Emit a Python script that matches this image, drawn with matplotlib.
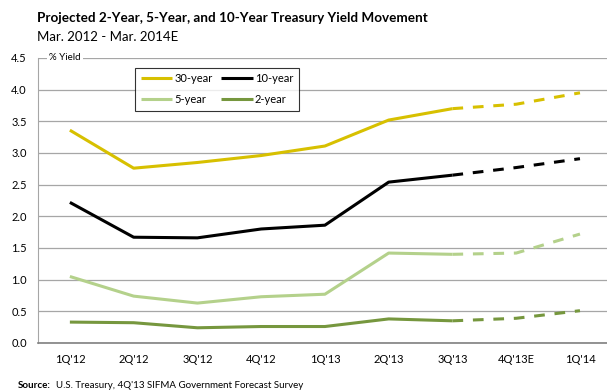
import matplotlib.pyplot as plt
import numpy as np

quarters = ["1Q'12", "2Q'12", "3Q'12", "4Q'12", "1Q'13", "2Q'13", "3Q'13", "4Q'13E", "1Q'14"]
yield_30y = [3.36, 2.76, 2.85, 2.96, 3.11, 3.52, 3.70, 3.77, 3.95]
yield_10y = [2.22, 1.67, 1.66, 1.80, 1.86, 2.54, 2.65, 2.77, 2.91]
yield_5y = [1.05, 0.74, 0.63, 0.73, 0.77, 1.42, 1.40, 1.42, 1.72]
yield_2y = [0.33, 0.32, 0.24, 0.26, 0.26, 0.38, 0.35, 0.39, 0.51]
n_actual = 7  # actual data through 3Q'13, forecast afterwards

plt.rcParams["font.family"] = ["Lato", "DejaVu Sans"]

fig = plt.figure(figsize=(6.07, 3.91), dpi=100)
ax = fig.add_axes([0.0626, 0.1228, 0.9454, 0.7289])

x = np.arange(len(quarters))
series = [
    ("30-year", yield_30y, "#d7c000"),
    ("10-year", yield_10y, "#000000"),
    ("5-year", yield_5y, "#b4d18b"),
    ("2-year", yield_2y, "#76973e"),
]
handles = {}
for label, vals, color in series:
    h, = ax.plot(x[:n_actual], vals[:n_actual], color=color, lw=2.2, label=label,
                 solid_capstyle="butt", zorder=3)
    handles[label] = h
    ax.plot(x[n_actual - 1:], vals[n_actual - 1:], color=color, lw=2.2,
            dashes=(3.5, 3.2), dash_capstyle="butt", zorder=3)

ax.set_xlim(-0.5, 8.5)
ax.set_ylim(0, 4.5)
ax.set_yticks(np.arange(0, 4.51, 0.5))
ax.set_yticklabels([f"{v:.1f}" for v in np.arange(0, 4.51, 0.5)], fontsize=8)
ax.set_xticks(x)
ax.set_xticklabels(quarters, fontsize=8)
ax.tick_params(axis="both", length=0, pad=8)
ax.grid(axis="y", color="#a6a6a6", lw=0.9)
ax.set_axisbelow(True)
for side in ["top", "right"]:
    ax.spines[side].set_visible(False)
ax.spines["left"].set_color("#a6a6a6")
ax.spines["bottom"].set_color("#808080")
ax.spines["bottom"].set_linewidth(1.2)

ax.text(-0.32, 4.5, "% Yield", fontsize=7, va="center", ha="left",
        bbox=dict(facecolor="white", edgecolor="none", pad=1.5), zorder=4)

# legend fills column-wise; order so rows read 30/10 and 5/2
order = ["30-year", "5-year", "10-year", "2-year"]
leg = ax.legend([handles[k] for k in order], order, ncol=2, loc="upper left",
                bbox_to_anchor=(0.16, 0.985), fontsize=8, frameon=True,
                fancybox=False, handlelength=2.8, handletextpad=0.2,
                columnspacing=0.8, borderpad=0.5, labelspacing=0.9)
leg.get_frame().set_edgecolor("black")
leg.get_frame().set_linewidth(0.8)

fig.text(0.061, 0.955, "Projected 2-Year, 5-Year, and 10-Year Treasury Yield Movement",
         fontsize=9.7, fontweight="bold", va="center")
fig.text(0.061, 0.905, "Mar. 2012 - Mar. 2014E", fontsize=9.5, va="center")
fig.text(0.03, 0.015, "Source:", fontsize=7, fontweight="bold", va="center")
fig.text(0.092, 0.015, "U.S. Treasury, 4Q'13 SIFMA Government Forecast Survey",
         fontsize=7, va="center")

fig.savefig("out.png", dpi=100)
